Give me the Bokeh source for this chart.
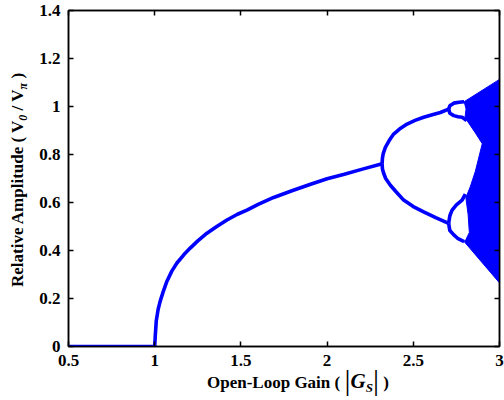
from bokeh.plotting import figure
from bokeh.models import LinearAxis, Range1d, FixedTicker, Div, CustomLabelingPolicy
from bokeh.layouts import column, row
from bokeh.embed import file_html
from bokeh.resources import INLINE

# ---- data ----
off_gain = [0.5, 1.0]
off_amp = [0.0, 0.0]

p1_gain = [1.0, 1.003, 1.009, 1.02, 1.032, 1.05, 1.071, 1.1, 1.129, 1.17, 1.206, 1.25,
           1.303, 1.36, 1.419, 1.48, 1.535, 1.6, 1.69, 1.8, 1.9, 2.0, 2.1, 2.2, 2.319]
p1_amp = [0.0, 0.04, 0.106, 0.155, 0.189, 0.23, 0.272, 0.315, 0.348, 0.383, 0.41, 0.44,
          0.472, 0.5, 0.527, 0.551, 0.568, 0.592, 0.621, 0.65, 0.675, 0.699, 0.718, 0.738, 0.761]

p2_up_gain = [2.319, 2.321, 2.326, 2.338, 2.36, 2.386, 2.42, 2.464, 2.51, 2.56, 2.61, 2.657, 2.705]
p2_up_amp = [0.761, 0.785, 0.805, 0.83, 0.858, 0.885, 0.906, 0.927, 0.942, 0.955, 0.966, 0.975, 0.989]
p2_lo_gain = [2.319, 2.321, 2.328, 2.34, 2.367, 2.40, 2.444, 2.50, 2.56, 2.63, 2.705]
p2_lo_amp = [0.761, 0.74, 0.722, 0.70, 0.672, 0.645, 0.61, 0.583, 0.561, 0.537, 0.513]

p4a_up_gain = [2.705, 2.712, 2.735, 2.765, 2.795]
p4a_up_amp = [0.989, 1.003, 1.014, 1.018, 1.02]
p4a_lo_gain = [2.705, 2.712, 2.735, 2.76, 2.783, 2.81]
p4a_lo_amp = [0.989, 0.972, 0.962, 0.957, 0.955, 0.942]
p4b_up_gain = [2.705, 2.712, 2.725, 2.75, 2.783, 2.802]
p4b_up_amp = [0.513, 0.545, 0.568, 0.59, 0.61, 0.635]
p4b_lo_gain = [2.705, 2.712, 2.735, 2.76, 2.795]
p4b_lo_amp = [0.513, 0.483, 0.465, 0.449, 0.437]

chaos_gain = [2.795, 3.0, 3.0, 2.795, 2.805, 2.825, 2.818, 2.805, 2.83, 2.86, 2.90,
              2.86, 2.812, 2.80, 2.806]
chaos_amp = [1.02, 1.113, 0.265, 0.437, 0.445, 0.475, 0.55, 0.62, 0.665, 0.73, 0.845,
             0.89, 0.941, 0.955, 0.99]

xticks = [0.5, 1, 1.5, 2, 2.5, 3]
xtick_labels = ["0.5", "1", "1.5", "2", "2.5", "3"]
yticks = [0, 0.2, 0.4, 0.6, 0.8, 1.0, 1.2, 1.4]
ytick_labels = ["0", "0.2", "0.4", "0.6", "0.8", "1", "1.2", "1.4"]

x_title = ("Open-Loop Gain ( ", "|", "G", "S", "|", " )")
y_title = ("Relative Amplitude ( V", "0", " / V", "π", " )")

BLUE = "#0000ff"
FONT = "Liberation Serif"

p = figure(width=474, height=375, x_range=Range1d(0.5, 3), y_range=Range1d(0, 1.4),
           output_backend="svg", toolbar_location=None,
           min_border_left=38, min_border_right=5, min_border_top=10, min_border_bottom=29)
p.grid.visible = False
p.outline_line_color = "black"
p.outline_line_width = 1.5

p.patch(chaos_gain, chaos_amp, fill_color=BLUE, line_color=BLUE, line_width=1)
for gx, gy in [(off_gain, off_amp), (p1_gain, p1_amp), (p2_up_gain, p2_up_amp),
               (p2_lo_gain, p2_lo_amp), (p4a_up_gain, p4a_up_amp), (p4a_lo_gain, p4a_lo_amp),
               (p4b_up_gain, p4b_up_amp), (p4b_lo_gain, p4b_lo_amp)]:
    p.line(gx, gy, line_color=BLUE, line_width=3.6)

def style(ax, ticks, labels, show):
    ax.ticker = FixedTicker(ticks=ticks)
    ax.major_label_overrides = {t: l for t, l in zip(ticks, labels)}
    ax.major_tick_in = 5
    ax.major_tick_out = 0
    ax.minor_tick_line_color = None
    ax.major_tick_line_color = "black"
    ax.major_tick_line_width = 1.5
    ax.axis_line_color = "black"
    ax.axis_line_width = 1.5
    if show:
        ax.major_label_text_font = FONT
        ax.major_label_text_font_style = "bold"
        ax.major_label_text_font_size = "17px"
        ax.major_label_text_color = "black"
        ax.major_label_standoff = 8
    else:
        ax.major_label_text_font_size = "0px"
        ax.major_label_standoff = 0
        ax.major_label_policy = CustomLabelingPolicy(code="return new Set()")

style(p.xaxis[0], xticks, xtick_labels, True)
style(p.yaxis[0], yticks, ytick_labels, True)
top = LinearAxis()
right = LinearAxis()
style(top, xticks, xtick_labels, False)
style(right, yticks, ytick_labels, False)
p.add_layout(top, "above")
p.add_layout(right, "right")

# ---- axis titles as HTML text ----
base = ("font-family:Liberation Serif,serif;font-weight:bold;font-size:17px;"
        "line-height:17px;white-space:nowrap;color:black;")
sub = "font-style:italic;font-size:12px;line-height:0;position:relative;top:4px;"
ytxt = ('<div style="position:relative;width:30px;height:375px;">'
        '<div style="position:absolute;left:9px;top:287px;transform-origin:0 0;'
        'transform:rotate(-90deg);' + base + '">'
        + y_title[0] + '<span style="' + sub + '">' + y_title[1] + '</span>' + y_title[2]
        + '<span style="' + sub + '">' + y_title[3] + '</span>' + y_title[4] + '</div></div>')
bar = "font-weight:normal;font-size:30px;line-height:0;position:relative;top:2px;"
xtxt = ('<div style="position:relative;width:504px;height:25px;">'
        '<div style="position:absolute;left:207px;top:-1px;' + base + '">'
        + x_title[0] + '<span style="' + bar + '">' + x_title[1] + '</span>'
        + '<span style="font-style:italic;font-size:21px;line-height:0;">' + x_title[2] + '</span>'
        + '<span style="font-style:italic;font-size:13px;line-height:0;position:relative;top:4px;">'
        + x_title[3] + '</span>'
        + '<span style="' + bar + '">' + x_title[4] + '</span>' + x_title[5] + '</div></div>')

ydiv = Div(text=ytxt, width=30, height=375, margin=0)
xdiv = Div(text=xtxt, width=504, height=25, margin=0)

layout = column(row(ydiv, p, spacing=0), xdiv, spacing=0)

open("out.html", "w").write(file_html(layout, INLINE))
